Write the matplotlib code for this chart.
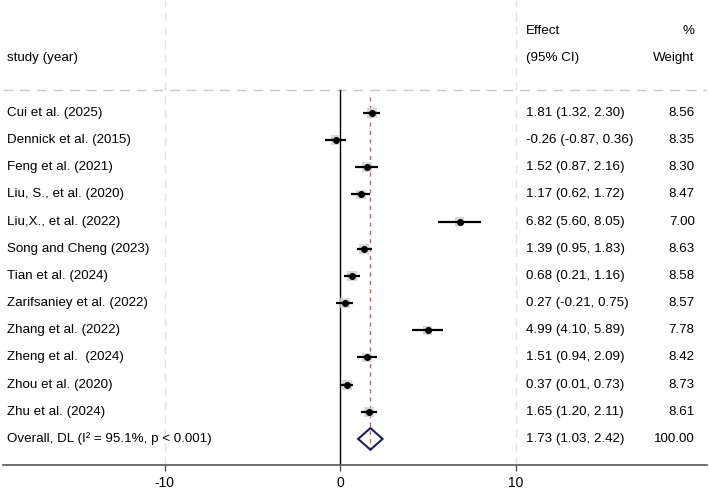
import matplotlib
matplotlib.use("Agg")
import matplotlib.pyplot as plt
import numpy as np

plt.rcParams["font.family"] = ["Liberation Sans", "DejaVu Sans"]

studies = [
    "Cui et al. (2025)", "Dennick et al. (2015)", "Feng et al. (2021)",
    "Liu, S., et al. (2020)", "Liu,X., et al. (2022)", "Song and Cheng (2023)",
    "Tian et al. (2024)", "Zarifsaniey et al. (2022)", "Zhang et al. (2022)",
    "Zheng et al.  (2024)", "Zhou et al. (2020)", "Zhu et al. (2024)",
]
effect = [1.81, -0.26, 1.52, 1.17, 6.82, 1.39, 0.68, 0.27, 4.99, 1.51, 0.37, 1.65]
ci_low = [1.32, -0.87, 0.87, 0.62, 5.60, 0.95, 0.21, -0.21, 4.10, 0.94, 0.01, 1.20]
ci_high = [2.30, 0.36, 2.16, 1.72, 8.05, 1.83, 1.16, 0.75, 5.89, 2.09, 0.73, 2.11]
weight = [8.56, 8.35, 8.30, 8.47, 7.00, 8.63, 8.58, 8.57, 7.78, 8.42, 8.73, 8.61]

overall_label = "Overall, DL (I² = 95.1%, p < 0.001)"
overall = (1.73, 1.03, 2.42)
overall_weight = 100.00

xticks = [-10, 0, 10]

fig = plt.figure(figsize=(7.09, 4.92), dpi=100)
ax = fig.add_axes([3 / 709, 27 / 492, 704 / 709, 465 / 492])
ax.set_xlim(-19.2, 20.9)
ax.set_ylim(12.96, -4.16)

n = len(studies)
rows = np.arange(n)

# grid lines at ticks
for t in xticks:
    if t != 0:
        ax.axvline(t, color="#e2e2e2", lw=1, ls=(0, (6, 4)), zorder=0)
ax.axhline(-0.85, color="#c8c8c8", lw=1, ls=(0, (7, 5)), zorder=1)

# null line
ax.plot([0, 0], [-0.85, 12.96], color="black", lw=1, zorder=2)

# overall effect line
ax.plot([overall[0], overall[0]], [-0.6, 12.4], color="#b06a6a", lw=1,
        ls=(0, (3, 3)), zorder=2)

# weight boxes, CIs, points
sizes = np.array(weight) * 6
ax.scatter(effect, rows, s=sizes, marker="s", color="#cfcfcf", alpha=0.8,
           linewidths=0, zorder=3)
ax.hlines(rows, ci_low, ci_high, color="black", lw=1.6, zorder=4)
ax.scatter(effect, rows, s=16, color="black", zorder=5)

# overall diamond
est, lo, hi = overall
yo = n
ax.fill([lo, est, hi, est, lo], [yo, yo - 0.4, yo, yo + 0.4, yo],
        facecolor="none", edgecolor="#1c1c6b", lw=1.5, zorder=5)

# text columns
fs = 9.6
x_lab, x_eff, x_w = -19.0, 10.6, 20.2
ax.text(x_lab, -2.02, "study (year)", fontsize=fs, va="center")
ax.text(x_eff, -3.02, "Effect", fontsize=fs, va="center")
ax.text(x_eff, -2.02, "(95% CI)", fontsize=fs, va="center")
ax.text(x_w, -3.02, "%", fontsize=fs, va="center", ha="right")
ax.text(x_w, -2.02, "Weight", fontsize=fs, va="center", ha="right")

for i in range(n):
    ax.text(x_lab, i, studies[i], fontsize=fs, va="center")
    ax.text(x_eff, i, f"{effect[i]:.2f} ({ci_low[i]:.2f}, {ci_high[i]:.2f})",
            fontsize=fs, va="center")
    ax.text(x_w, i, f"{weight[i]:.2f}", fontsize=fs, va="center", ha="right")

ax.text(x_lab, yo, overall_label, fontsize=fs, va="center")
ax.text(x_eff, yo, f"{est:.2f} ({lo:.2f}, {hi:.2f})", fontsize=fs, va="center")
ax.text(x_w, yo, f"{overall_weight:.2f}", fontsize=fs, va="center", ha="right")

for s in ["top", "left", "right"]:
    ax.spines[s].set_visible(False)
ax.spines["bottom"].set_color("#555555")
ax.spines["bottom"].set_linewidth(1.2)
ax.set_yticks([])
ax.set_xticks(xticks)
ax.set_xticklabels([str(t) for t in xticks])
ax.tick_params(axis="x", length=4, width=1, color="#555555", labelsize=10, pad=4)

fig.savefig("out.png", dpi=100)
